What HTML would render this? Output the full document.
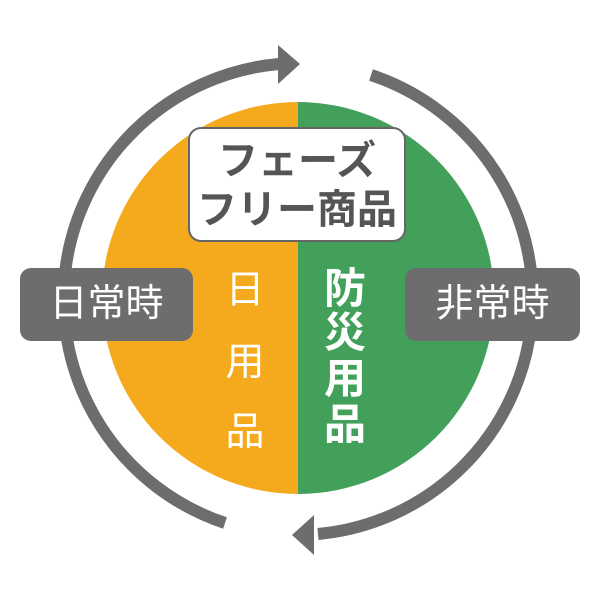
<!DOCTYPE html>
<html><head><meta charset="utf-8"><style>
body{margin:0;width:600px;height:600px;background:#fff;overflow:hidden;position:relative;font-family:"Liberation Sans","Noto Sans CJK JP",sans-serif}
.t{position:absolute;color:#fff;font-weight:bold;text-align:center;line-height:1}
</style></head><body>
<svg width="600" height="600" style="position:absolute;left:0;top:0">
<path d="M298 102 A196 196 0 0 0 298 494 Z" fill="#f5aa1e"/>
<path d="M298 102 A196 196 0 0 1 298 494 Z" fill="#42a05a"/>
<g fill="none" stroke="#6d6d6d" stroke-width="12">
<path d="M225 523 A236 236 0 0 1 279 64"/>
<path d="M371 75 A236 236 0 0 1 318 534"/>
</g>
<polygon points="300,64 278,45 278,84" fill="#6d6d6d"/>
<polygon points="292,535 314,515 314,555" fill="#6d6d6d"/>
<rect x="20" y="268" width="173" height="73" rx="11" fill="#6d6d6d"/>
<rect x="405" y="268" width="175" height="73" rx="11" fill="#6d6d6d"/>
<rect x="189" y="128" width="216" height="113" rx="12" fill="#fff" stroke="#666" stroke-width="2"/>
</svg>
<div class="t" style="left:20px;top:285px;width:173px;font-size:38px;font-weight:normal">日常時</div>
<div class="t" style="left:405px;top:285px;width:175px;font-size:38px;font-weight:normal">非常時</div>
<div class="t" style="left:189px;top:141px;width:216px;font-size:40px;color:#555">フェーズ</div>
<div class="t" style="left:189px;top:190px;width:216px;font-size:40px;color:#555">フリー商品</div>
<div class="t" style="left:222px;top:271px;width:46px;font-size:39px;font-weight:normal">日</div>
<div class="t" style="left:222px;top:343px;width:46px;font-size:39px;font-weight:normal">用</div>
<div class="t" style="left:222px;top:413px;width:46px;font-size:39px;font-weight:normal">品</div>
<div class="t" style="left:322px;top:268px;width:46px;font-size:42px">防</div>
<div class="t" style="left:322px;top:312px;width:46px;font-size:42px">災</div>
<div class="t" style="left:322px;top:358px;width:46px;font-size:42px">用</div>
<div class="t" style="left:322px;top:404px;width:46px;font-size:42px">品</div>
</body></html>
